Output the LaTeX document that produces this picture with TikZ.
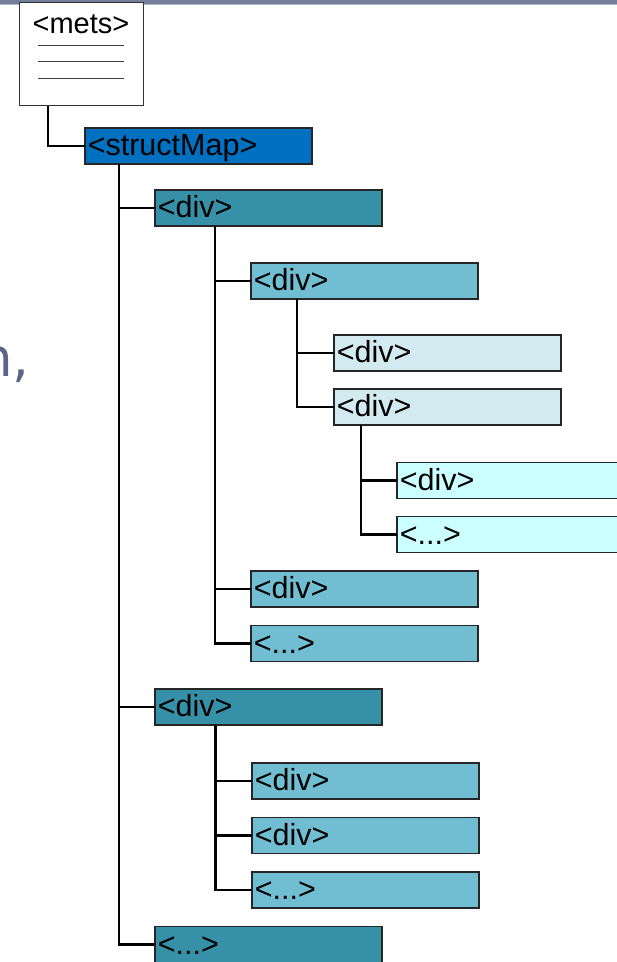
\documentclass[tikz,border=0pt]{standalone}
\usepackage{fontspec}
\setmainfont{Liberation Sans}
\newfontfamily\slidefont{DejaVu Sans}
\definecolor{barcol}{HTML}{737F9D}
\definecolor{barlight}{HTML}{AEB5C8}
\definecolor{slatetext}{HTML}{5B6687}
\definecolor{mapblue}{HTML}{0070C0}
\definecolor{lvlone}{HTML}{3690A7}
\definecolor{lvltwo}{HTML}{71BED3}
\definecolor{lvlthree}{HTML}{D2EAF0}
\definecolor{lvlfour}{HTML}{CCFFFF}
\tikzset{
  elem/.style={draw=black!85, line width=1.1pt, rectangle, anchor=north west,
    inner xsep=2.8pt, inner ysep=0pt, outer sep=0pt,
    text width=221.4pt, align=left, text height=27.5pt, text depth=8.5pt,
    font=\fontsize{30.5}{30.5}\selectfont},
  link/.style={line width=2.8pt, black}
}
\begin{document}
\begin{tikzpicture}[x=1pt, y=-1pt]
\useasboundingbox (0,0) rectangle (617,962);
\clip (0,0) rectangle (617,962);
\fill[white] (0,0) rectangle (617,962);
% header band
\fill[barcol] (0,0) rectangle (617,4.3);
\fill[barlight] (0,4.3) rectangle (617,5.3);
% slide text running in from the left
\node[anchor=base west, inner sep=0pt, text=slatetext,
  font=\slidefont\fontsize{53}{53}\selectfont] (slide) at (-21,376) {n,};
% root element
\node[draw=black!80, line width=1pt, rectangle, anchor=north west, inner sep=0pt,
  minimum width=124pt, minimum height=103pt, fill=white] (mets) at (19,2) {};
\node[anchor=base, inner sep=0pt, font=\fontsize{29}{29}\selectfont] (metslbl)
  at (81,33) {<mets>};
\foreach \yy/\nm in {45/la,61.5/lb,78.2/lc}{
  \coordinate (\nm l) at (38,\yy);
  \coordinate (\nm r) at (124,\yy);
  \draw[line width=0.9pt, black!75] (\nm l) -- (\nm r);
}
% tree of elements
\node[elem, fill=mapblue]  (sm)   at (85,128)  {<structMap>};
\node[elem, fill=lvlone]   (d1)   at (155,190) {<div>};
\node[elem, fill=lvltwo]   (d11)  at (251,263) {<div>};
\node[elem, fill=lvlthree] (d111) at (334,335) {<div>};
\node[elem, fill=lvlthree] (d112) at (334,389) {<div>};
\node[elem, fill=lvlfour]  (d1121) at (397,462.5) {<div>};
\node[elem, fill=lvlfour]  (d1122) at (397,516.5) {<...>};
\node[elem, fill=lvltwo]   (d12)  at (251,571) {<div>};
\node[elem, fill=lvltwo]   (d13)  at (251,625.5) {<...>};
\node[elem, fill=lvlone]   (d2)   at (155,689) {<div>};
\node[elem, fill=lvltwo]   (d21)  at (252,763) {<div>};
\node[elem, fill=lvltwo]   (d22)  at (252,817.5) {<div>};
\node[elem, fill=lvltwo]   (d23)  at (252,872) {<...>};
\node[elem, fill=lvlone]   (d3)   at (155,926.5) {<...>};
% connectors
\draw[link] ([xshift=29pt]mets.south west) |- (sm.west);
\foreach \c in {d1,d2,d3}
  \draw[link] ([xshift=34pt]sm.south west) |- (\c.west);
\foreach \c in {d11,d12,d13}
  \draw[link] ([xshift=60pt]d1.south west) |- (\c.west);
\foreach \c in {d111,d112}
  \draw[link] ([xshift=46pt]d11.south west) |- (\c.west);
\foreach \c in {d1121,d1122}
  \draw[link] ([xshift=27pt]d112.south west) |- (\c.west);
\foreach \c in {d21,d22,d23}
  \draw[link] ([xshift=60.5pt]d2.south west) |- (\c.west);
\end{tikzpicture}
\end{document}
